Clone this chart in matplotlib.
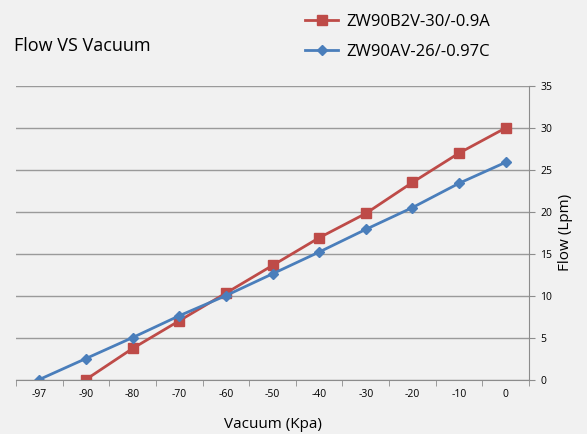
import matplotlib
matplotlib.use("Agg")
import matplotlib.pyplot as plt
import numpy as np

plt.rcParams['font.family'] = ['Open Sans', 'DejaVu Sans']

# 진공도 카테고리 / 유량 데이터
vacuum = ["-97", "-90", "-80", "-70", "-60", "-50", "-40", "-30", "-20", "-10", "0"]
flow_b2v = [None, 0, 3.7, 7.0, 10.3, 13.6, 16.9, 19.8, 23.5, 27.0, 30.0]
flow_av = [0, 2.5, 5.0, 7.6, 10.0, 12.6, 15.2, 17.9, 20.5, 23.4, 25.9]
y_ticks = [0, 5, 10, 15, 20, 25, 30, 35]

bg = "#f1f1f1"
red = "#be4b48"
blue = "#4a7ebb"

fig = plt.figure(figsize=(5.87, 4.34), dpi=100, facecolor=bg)
ax = fig.add_axes([16/587, 1-379.5/434, (529-16)/587, (379.5-86)/434], facecolor=bg)

x = np.arange(len(vacuum))
xr = [i for i, v in zip(x, flow_b2v) if v is not None]
yr = [v for v in flow_b2v if v is not None]

ax.plot(xr, yr, color=red, lw=2, marker='s', ms=7, label="ZW90B2V-30/-0.9A")
ax.plot(x, flow_av, color=blue, lw=2, marker='D', ms=5.5, label="ZW90AV-26/-0.97C")

ax.set_xlim(-0.5, len(vacuum)-0.5)
ax.set_ylim(0, 35)
ax.set_xticks(x)
ax.set_xticklabels(vacuum, fontsize=7.5)
ax.set_xticks(np.arange(-0.5, len(vacuum)), minor=True)
ax.tick_params(axis='x', which='major', length=0, pad=7)
ax.tick_params(axis='x', which='minor', length=4, color="#8c8c8c", direction='out')

ax.yaxis.tick_right()
ax.yaxis.set_label_position("right")
ax.set_yticks(y_ticks)
ax.tick_params(axis='y', labelsize=7.5, length=4, color="#8c8c8c", pad=4)
ax.grid(axis='y', color="#9a9a9a", lw=1)
ax.set_axisbelow(True)

for s in ['left', 'top']:
    ax.spines[s].set_visible(False)
for s in ['right', 'bottom']:
    ax.spines[s].set_color("#8c8c8c")

ax.set_xlabel("Vacuum (Kpa)", fontsize=11, labelpad=12)
ax.set_ylabel("Flow (Lpm)", fontsize=11, labelpad=4)

fig.text(14/587, 1-46/434, "Flow VS Vacuum", fontsize=13, va='center', ha='left')

fig.legend(loc='upper right', bbox_to_anchor=(497/587, 1-7/434), frameon=False,
           fontsize=12, handlelength=2.0, handletextpad=0.5, labelspacing=0.85,
           borderaxespad=0)

fig.savefig("out.png", dpi=100, facecolor=bg)
